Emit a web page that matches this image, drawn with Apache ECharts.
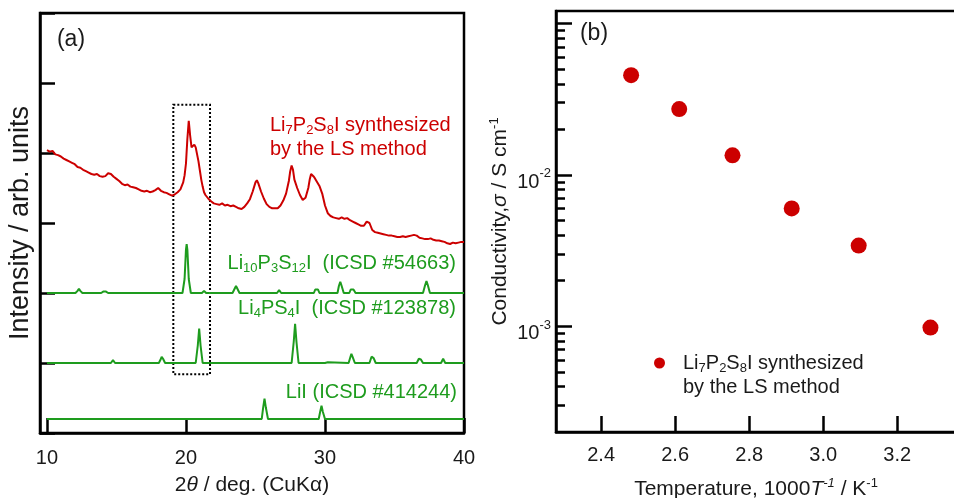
<!DOCTYPE html>
<html>
<head>
<meta charset="utf-8">
<script src="https://cdn.jsdelivr.net/npm/echarts@6/dist/echarts.min.js"></script>
<style>
  html, body { margin: 0; padding: 0; background: #fff; }
  #chart { width: 954px; height: 498px; }
</style>
</head>
<body>
<div id="chart"></div>
<script>
// (a) XRD patterns: [2theta (deg), intensity (arb., stacked)]
const lsPattern = [
  [10.0, 4.04], [10.2, 4.02], [10.4, 4.03], [10.6, 3.98], [10.8, 3.97], [11.0, 3.95],
  [11.2, 3.92], [11.4, 3.90], [11.6, 3.88], [11.8, 3.86], [12.0, 3.84], [12.2, 3.80],
  [12.4, 3.79], [12.6, 3.76], [12.8, 3.74], [13.0, 3.72], [13.2, 3.70], [13.4, 3.69],
  [13.6, 3.70], [13.8, 3.67], [14.0, 3.66], [14.2, 3.67], [14.4, 3.71], [14.5, 3.72],
  [14.6, 3.70], [14.8, 3.66], [15.0, 3.63], [15.2, 3.60], [15.4, 3.56], [15.6, 3.54],
  [15.8, 3.55], [16.0, 3.52], [16.2, 3.51], [16.4, 3.50], [16.6, 3.48], [16.8, 3.46],
  [17.0, 3.45], [17.2, 3.46], [17.4, 3.44], [17.6, 3.45], [17.8, 3.47], [18.0, 3.50],
  [18.2, 3.46], [18.4, 3.44], [18.6, 3.43], [18.8, 3.41], [19.0, 3.39], [19.2, 3.41],
  [19.4, 3.44], [19.6, 3.48], [19.8, 3.58], [19.9, 3.68], [20.0, 3.85], [20.1, 4.20],
  [20.2, 4.46], [20.3, 4.25], [20.4, 4.08], [20.5, 4.10], [20.6, 4.12], [20.7, 4.08],
  [20.8, 3.98], [20.9, 3.88], [21.0, 3.75], [21.1, 3.62], [21.2, 3.52], [21.3, 3.44],
  [21.4, 3.40], [21.6, 3.35], [21.8, 3.31], [22.0, 3.28], [22.2, 3.27], [22.4, 3.26],
  [22.6, 3.28], [22.8, 3.25], [23.0, 3.26], [23.2, 3.24], [23.4, 3.25], [23.6, 3.23],
  [23.8, 3.21], [24.0, 3.20], [24.2, 3.23], [24.4, 3.28], [24.6, 3.34], [24.8, 3.45],
  [25.0, 3.58], [25.1, 3.61], [25.2, 3.57], [25.4, 3.45], [25.6, 3.35], [25.8, 3.27],
  [26.0, 3.23], [26.2, 3.21], [26.4, 3.21], [26.6, 3.21], [26.8, 3.25], [27.0, 3.32],
  [27.2, 3.42], [27.4, 3.60], [27.5, 3.74], [27.6, 3.82], [27.7, 3.76], [27.8, 3.62],
  [28.0, 3.50], [28.2, 3.40], [28.4, 3.33], [28.6, 3.36], [28.8, 3.50], [28.9, 3.62],
  [29.0, 3.70], [29.1, 3.72], [29.2, 3.66], [29.3, 3.63], [29.4, 3.61], [29.6, 3.53],
  [29.8, 3.42], [30.0, 3.25], [30.2, 3.14], [30.4, 3.10], [30.6, 3.08], [30.8, 3.07],
  [31.0, 3.06], [31.2, 3.08], [31.4, 3.06], [31.6, 3.07], [31.8, 3.04], [32.0, 3.02],
  [32.2, 3.00], [32.4, 2.98], [32.6, 2.96], [32.8, 2.96], [33.0, 3.02], [33.1, 3.04],
  [33.2, 3.00], [33.4, 2.90], [33.6, 2.87], [33.8, 2.86], [34.0, 2.85], [34.2, 2.84],
  [34.4, 2.83], [34.6, 2.82], [34.8, 2.82], [35.0, 2.81], [35.2, 2.80], [35.4, 2.80],
  [35.6, 2.81], [35.8, 2.80], [36.0, 2.81], [36.2, 2.82], [36.4, 2.83], [36.6, 2.82],
  [36.8, 2.79], [37.0, 2.78], [37.2, 2.77], [37.4, 2.77], [37.6, 2.78], [37.8, 2.76],
  [38.0, 2.75], [38.2, 2.75], [38.4, 2.74], [38.6, 2.73], [38.8, 2.71], [39.0, 2.70],
  [39.2, 2.72], [39.4, 2.71], [39.6, 2.72], [39.8, 2.73], [40.0, 2.73]
];
const li10Pattern = [
  [10, 2], [12.05, 2], [12.2, 2.03], [12.3, 2.06], [12.4, 2.03], [12.55, 2],
  [13.9, 2], [14.05, 2.02], [14.15, 2.03], [14.25, 2.02], [14.4, 2],
  [17.2, 2], [17.3, 2.01], [17.4, 2],
  [19.75, 2], [19.9, 2.2], [20.0, 2.62], [20.05, 2.70], [20.1, 2.62], [20.2, 2.2], [20.35, 2],
  [21.15, 2], [21.3, 2.03], [21.45, 2],
  [23.35, 2], [23.5, 2.06], [23.6, 2.10], [23.7, 2.06], [23.85, 2],
  [24.4, 2], [24.5, 2.01], [24.6, 2],
  [26.55, 2], [26.7, 2.04], [26.85, 2],
  [28.4, 2], [28.5, 2.02], [28.6, 2],
  [29.2, 2], [29.3, 2.05], [29.4, 2.07], [29.5, 2.05], [29.6, 2],
  [30.1, 2], [30.2, 2.02], [30.3, 2],
  [30.9, 2], [31.0, 2.10], [31.1, 2.16], [31.2, 2.10], [31.35, 2],
  [31.75, 2], [31.85, 2.05], [31.95, 2.07], [32.05, 2.05], [32.2, 2],
  [33.5, 2], [33.6, 2.01], [33.7, 2],
  [35.0, 2], [35.1, 2.02], [35.2, 2],
  [37.05, 2], [37.2, 2.11], [37.3, 2.17], [37.4, 2.11], [37.55, 2],
  [40, 2]
];
const li4Pattern = [
  [10, 1], [14.6, 1], [14.75, 1.04], [14.9, 1],
  [18.05, 1], [18.2, 1.06], [18.25, 1.09], [18.35, 1.06], [18.5, 1],
  [20.7, 1], [20.85, 1.25], [20.95, 1.49], [21.05, 1.25], [21.2, 1],
  [25.7, 1], [25.8, 1.02], [25.9, 1],
  [27.6, 1], [27.75, 1.30], [27.85, 1.56], [27.95, 1.30], [28.1, 1],
  [29.8, 1], [29.9, 1.01], [30.0, 1], [30.1, 1], [30.2, 1.01], [30.3, 1],
  [31.7, 1], [31.85, 1.10], [31.9, 1.13], [32.0, 1.08], [32.15, 1],
  [33.2, 1], [33.35, 1.09], [33.4, 1.11], [33.5, 1.07], [33.65, 1],
  [36.6, 1], [36.75, 1.06], [36.8, 1.07], [36.9, 1.05], [37.05, 1],
  [38.35, 1], [38.5, 1.06], [38.65, 1],
  [40, 1]
];
const liiPattern = [
  [10, 0.2], [25.45, 0.2], [25.55, 0.36], [25.65, 0.49], [25.75, 0.36], [25.9, 0.2],
  [29.55, 0.2], [29.65, 0.30], [29.75, 0.39], [29.85, 0.30], [30.0, 0.2],
  [40, 0.2]
];
const xrdTicks = [10, 20, 30, 40];

// (b) Arrhenius plot
const recipTemp = [2.481, 2.611, 2.755, 2.915, 3.096, 3.29];
const conductivity = [0.0456, 0.0272, 0.01346, 0.0060, 0.00341, 0.00098];
const recipTicks = [2.4, 2.6, 2.8, 3.0, 3.2];
const sigmaMajor = [1e-3, 1e-2, 1e-1];
const sigmaLabels = [1e-3, 1e-2];
const sigmaMinor = [
  3e-4, 4e-4, 5e-4, 6e-4, 7e-4, 8e-4, 9e-4,
  2e-3, 3e-3, 4e-3, 5e-3, 6e-3, 7e-3, 8e-3, 9e-3,
  2e-2, 3e-2, 4e-2, 5e-2, 6e-2, 7e-2, 8e-2, 9e-2
];

const FONT = '"Liberation Sans", Arial, sans-serif';
const INK = '#1a1a1a';
const RED = '#cc0000';
const GREEN = '#1e9c1e';

function makeRich(color, size) {
  return {
    n: { fontFamily: FONT, fontSize: size, color: color, lineHeight: 24 },
    d: { fontFamily: FONT, fontSize: 13, color: color, lineHeight: 10, verticalAlign: 'bottom' },
    s: { fontFamily: FONT, fontSize: 13, color: color, lineHeight: 10, verticalAlign: 'top' },
    si: { fontFamily: FONT, fontSize: 13, fontStyle: 'italic', color: color, lineHeight: 10, verticalAlign: 'top' },
    i: { fontFamily: FONT, fontSize: size, fontStyle: 'italic', color: color, lineHeight: 24 },
    g: { fontFamily: FONT, fontSize: size, color: color, lineHeight: 24, width: 13 }
  };
}

function textEl(x, y, text, color, align) {
  return {
    type: 'text', x: x, y: y, silent: true,
    style: {
      text: text, fill: color, fontFamily: FONT, fontSize: 20, lineHeight: 24,
      align: align, verticalAlign: 'middle', rich: makeRich(color, 20)
    }
  };
}

const axisLineStyle = { show: true, lineStyle: { color: '#000', width: 2.5 } };

const chart = echarts.init(document.getElementById('chart'));
chart.setOption({
  animation: false,
  backgroundColor: '#fff',
  grid: [
    { left: 40, top: 13, width: 424, height: 420, outerBoundsMode: 'none', containLabel: false,
      show: true, borderColor: '#000', borderWidth: 2.5 },
    { left: 556, top: 11, width: 400, height: 421, outerBoundsMode: 'none', containLabel: false,
      show: true, borderColor: '#000', borderWidth: 2.5 }
  ],
  xAxis: [
    {
      gridIndex: 0, type: 'value', min: 9.5, max: 40,
      axisLine: axisLineStyle,
      axisTick: { inside: true, length: 15, customValues: xrdTicks, lineStyle: { color: '#000', width: 2.5 } },
      axisLabel: { customValues: xrdTicks, margin: 15, fontFamily: FONT, fontSize: 20, color: INK },
      splitLine: { show: false },
      name: '2{i|θ} / deg. (CuKα)', nameLocation: 'middle', nameGap: 40,
      nameTextStyle: { fontFamily: FONT, fontSize: 21, color: INK, lineHeight: 24, rich: makeRich(INK, 21) }
    },
    {
      gridIndex: 1, type: 'value', min: 2.278, max: 3.359,
      axisLine: axisLineStyle,
      axisTick: { inside: true, length: 16, customValues: recipTicks, lineStyle: { color: '#000', width: 2.5 } },
      axisLabel: {
        customValues: recipTicks, margin: 13, fontFamily: FONT, fontSize: 20, color: INK,
        formatter: v => v.toFixed(1)
      },
      splitLine: { show: false },
      name: 'Temperature, 1000{i|T}{si|-1} / K{s|-1}', nameLocation: 'middle', nameGap: 45,
      nameTextStyle: { fontFamily: FONT, fontSize: 21, color: INK, lineHeight: 24, rich: makeRich(INK, 21) }
    }
  ],
  yAxis: [
    {
      gridIndex: 0, type: 'value', min: 0, max: 6, interval: 1,
      axisLine: axisLineStyle,
      axisTick: { inside: true, length: 15, lineStyle: { color: '#000', width: 2.5 } },
      axisLabel: { show: false },
      splitLine: { show: false },
      name: 'Intensity / arb. units', nameLocation: 'middle', nameGap: 6,
      nameTextStyle: { fontFamily: FONT, fontSize: 27, color: INK }
    },
    {
      gridIndex: 1, type: 'log', logBase: 10, min: 2e-4, max: 0.121, position: 'left',
      axisLine: axisLineStyle,
      axisTick: { inside: true, length: 16, customValues: sigmaMajor, lineStyle: { color: '#000', width: 2.5 } },
      axisLabel: {
        customValues: sigmaLabels, margin: 5, padding: [10, 0, 0, 0],
        formatter: v => '{n|10}{s|' + Math.round(Math.log10(v)) + '}',
        rich: {
          n: { fontFamily: FONT, fontSize: 20, color: INK, lineHeight: 25, verticalAlign: 'bottom' },
          s: { fontFamily: FONT, fontSize: 13, color: INK, lineHeight: 25, verticalAlign: 'top' }
        }
      },
      splitLine: { show: false },
      name: 'Conductivity,{i|σ} / S cm{s|-1}', nameLocation: 'middle', nameGap: 44,
      nameTextStyle: { fontFamily: FONT, fontSize: 21, color: INK, lineHeight: 24, rich: makeRich(INK, 21) }
    },
    {
      gridIndex: 1, type: 'log', logBase: 10, min: 2e-4, max: 0.121, position: 'left',
      axisLine: { show: false },
      axisTick: { inside: true, length: 9, customValues: sigmaMinor, lineStyle: { color: '#000', width: 2.5 } },
      axisLabel: { show: false },
      splitLine: { show: false }
    }
  ],
  legend: {
    left: 654, top: 327, padding: 0,
    icon: 'circle', itemWidth: 11, itemHeight: 11,
    data: ['Li7P2S8I synthesized by the LS method'],
    formatter: () => '\n{g| }{n|Li}{d|7}{n|P}{d|2}{n|S}{d|8}{n|I synthesized}\n{g| }{n|by the LS method}',
    textStyle: { fontFamily: FONT, fontSize: 20, lineHeight: 24, color: INK, rich: makeRich(INK, 20) }
  },
  graphic: [
    { type: 'text', x: 71, y: 40, silent: true,
      style: { text: '(a)', fill: INK, fontFamily: FONT, fontSize: 23, align: 'center', verticalAlign: 'middle' } },
    { type: 'text', x: 594, y: 34, silent: true,
      style: { text: '(b)', fill: INK, fontFamily: FONT, fontSize: 23, align: 'center', verticalAlign: 'middle' } },
    textEl(270, 137, '{n|Li}{d|7}{n|P}{d|2}{n|S}{d|8}{n|I synthesized}\n{n|by the LS method}', RED, 'left'),
    textEl(456, 263, '{n|Li}{d|10}{n|P}{d|3}{n|S}{d|12}{n|I  (ICSD #54663)}', GREEN, 'right'),
    textEl(456, 308, '{n|Li}{d|4}{n|PS}{d|4}{n|I  (ICSD #123878)}', GREEN, 'right'),
    textEl(457, 392, '{n|LiI (ICSD #414244)}', GREEN, 'right')
  ],
  series: [
    {
      name: 'LiI', type: 'line', xAxisIndex: 0, yAxisIndex: 0, data: liiPattern,
      showSymbol: false, lineStyle: { color: GREEN, width: 2 }, silent: true
    },
    {
      name: 'Li4PS4I', type: 'line', xAxisIndex: 0, yAxisIndex: 0, data: li4Pattern,
      showSymbol: false, lineStyle: { color: GREEN, width: 2 }, silent: true,
      markArea: {
        silent: true,
        itemStyle: { color: 'rgba(0,0,0,0)', borderColor: '#000', borderWidth: 2, borderType: 'dotted' },
        data: [[{ coord: [19.09, 4.69] }, { coord: [21.73, 0.84] }]]
      }
    },
    {
      name: 'Li10P3S12I', type: 'line', xAxisIndex: 0, yAxisIndex: 0, data: li10Pattern,
      showSymbol: false, lineStyle: { color: GREEN, width: 2 }, silent: true
    },
    {
      name: 'Li7P2S8I (LS)', type: 'line', xAxisIndex: 0, yAxisIndex: 0, data: lsPattern,
      showSymbol: false, lineStyle: { color: RED, width: 2 }, silent: true
    },
    {
      name: 'Li7P2S8I synthesized by the LS method', type: 'scatter', xAxisIndex: 1, yAxisIndex: 1,
      data: recipTemp.map((t, i) => [t, conductivity[i]]),
      symbolSize: 16, itemStyle: { color: RED, opacity: 1 }
    }
  ]
});
</script>
</body>
</html>
